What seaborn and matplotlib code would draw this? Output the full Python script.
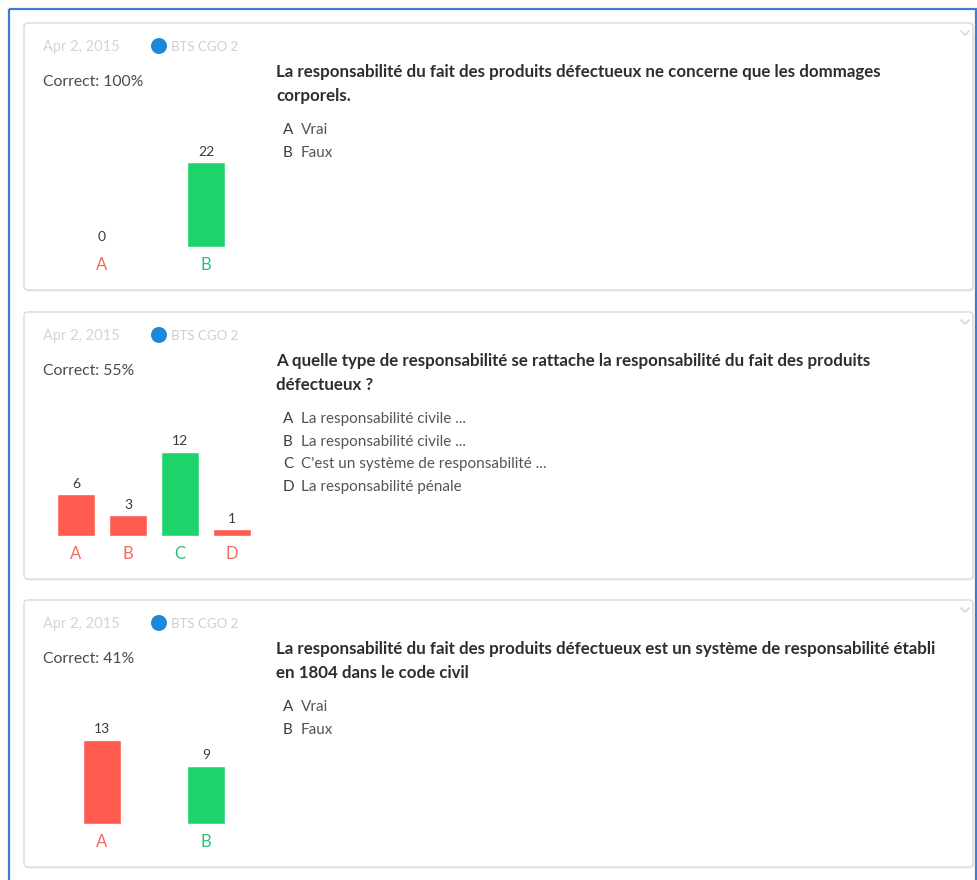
import matplotlib
matplotlib.use("Agg")
import matplotlib.pyplot as plt
import seaborn as sns
import pandas as pd
from matplotlib.patches import FancyBboxPatch, Rectangle, Circle

sns.set_theme(style="white")
plt.rcParams['font.family'] = ['Lato', 'DejaVu Sans']

# ---- data ----
dates = ["Apr 2, 2015", "Apr 2, 2015", "Apr 2, 2015"]
group_name = "BTS CGO 2"
correct_pct = ["Correct: 100%", "Correct: 55%", "Correct: 41%"]

q1_lines = ["La responsabilité du fait des produits défectueux ne concerne que les dommages",
            "corporels."]
q1_letters = ["A", "B"]
q1_options = ["Vrai", "Faux"]
q1_values = [0, 22]
q1_correct = ["B"]

q2_lines = ["A quelle type de responsabilité se rattache la responsabilité du fait des produits",
            "défectueux ?"]
q2_letters = ["A", "B", "C", "D"]
q2_options = ["La responsabilité civile ...", "La responsabilité civile ...",
              "C'est un système de responsabilité ...", "La responsabilité pénale"]
q2_values = [6, 3, 12, 1]
q2_correct = ["C"]

q3_lines = ["La responsabilité du fait des produits défectueux est un système de responsabilité établi",
            "en 1804 dans le code civil"]
q3_letters = ["A", "B"]
q3_options = ["Vrai", "Faux"]
q3_values = [13, 9]
q3_correct = ["B"]

questions = [
    (q1_lines, q1_letters, q1_options, q1_values, q1_correct),
    (q2_lines, q2_letters, q2_options, q2_values, q2_correct),
    (q3_lines, q3_letters, q3_options, q3_values, q3_correct),
]

# ---- style ----
W, H = 978, 880
RED, GREEN = "#FF5B4F", "#1ED36B"
RED_T, GREEN_T = "#F26A5E", "#2BBF7C"
card_tops = [23, 312, 600]
card_h = 267

fig = plt.figure(figsize=(W / 100, H / 100), dpi=100)
fig.patch.set_facecolor("white")
bg = fig.add_axes([0, 0, 1, 1])
bg.set_xlim(0, W)
bg.set_ylim(H, 0)
bg.axis("off")

# blue outer frame
bg.add_patch(Rectangle((8.5, 9), 967, 900, fill=False, edgecolor="#3B7DD8", lw=1.6))

for i, (lines, letters, options, values, correct) in enumerate(questions):
    top = card_tops[i]
    # shadow + card
    bg.add_patch(FancyBboxPatch((25, top + 1.5), 949, card_h, boxstyle="round,pad=0,rounding_size=4",
                                facecolor="#EBEBEB", edgecolor="none", zorder=1))
    bg.add_patch(FancyBboxPatch((24, top), 949, card_h, boxstyle="round,pad=0,rounding_size=4",
                                facecolor="white", edgecolor="#DADADA", lw=1.0, zorder=2))
    # chevron
    bg.plot([961, 965, 969], [top + 8, top + 12, top + 8], color="#D5D5D5", lw=1.2, zorder=3)
    # header
    bg.text(43, top + 24, dates[i], fontsize=10.5, color="#D4D4D4", va="center", ha="left", zorder=3)
    bg.add_patch(Circle((159, top + 23), 8, facecolor="#1E88D8", edgecolor="none", zorder=3))
    bg.text(171, top + 24, group_name, fontsize=9.5, color="#CFCFCF", va="center", ha="left", zorder=3)
    bg.text(43, top + 59, correct_pct[i], fontsize=11.3, color="#4A4A4A", va="center", ha="left", zorder=3)
    # question
    for j, line in enumerate(lines):
        bg.text(276, top + 49 + 24 * j, line, fontsize=12.2, fontweight="bold", color="#2E2E2E",
                va="center", ha="left", zorder=3)
    for j, (let, opt) in enumerate(zip(letters, options)):
        y = top + 107 + 22.7 * j
        bg.text(283, y, let, fontsize=11, color="#3E3E3E", va="center", ha="left", zorder=3)
        bg.text(301, y, opt, fontsize=11, color="#555555", va="center", ha="left", zorder=3)

    # bar chart
    n = len(letters)
    baseline = top + 224
    left, width_px, height_px = 50, 208, 84.5
    ax = fig.add_axes([left / W, 1 - baseline / H, width_px / W, height_px / H])
    ax.patch.set_alpha(0)
    df = pd.DataFrame({"letter": letters, "count": values})
    pal = {l: (GREEN if l in correct else RED) for l in letters}
    sns.barplot(data=df, x="letter", y="count", hue="letter", palette=pal, dodge=False,
                width=38 / (width_px / n), legend=False, ax=ax, saturation=1)
    ax.set_xlim(-0.5, n - 0.5)
    ax.set_ylim(0, max(values))
    for c in ax.containers:
        ax.bar_label(c, padding=3, fontsize=10, color="#3A3A3A", clip_on=False)
    ax.set_xlabel("")
    ax.set_ylabel("")
    ax.set_yticks([])
    ax.tick_params(axis="x", length=0, pad=7, labelsize=12)
    for lab in ax.get_xticklabels():
        lab.set_color(GREEN_T if lab.get_text() in correct else RED_T)
    for s in ax.spines.values():
        s.set_visible(False)

fig.savefig("out.png", dpi=100)
